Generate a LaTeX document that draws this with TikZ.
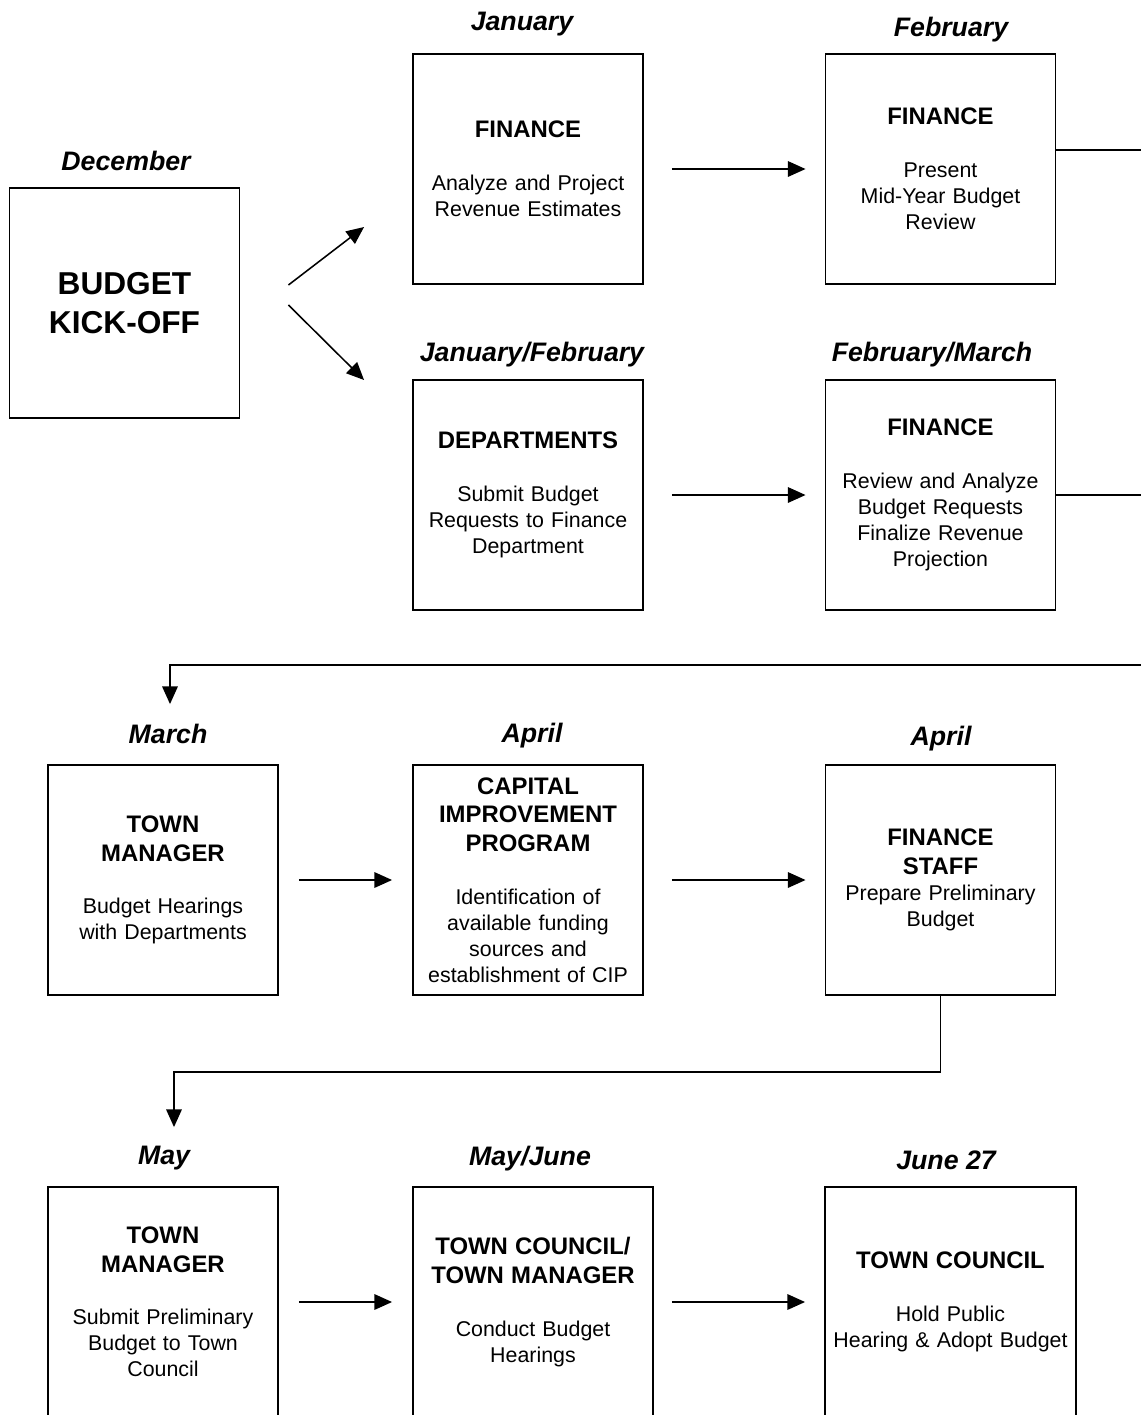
\documentclass[tikz,border=0pt]{standalone}
\usepackage{fontspec}
\setmainfont{Liberation Sans}
\usetikzlibrary{arrows.meta,positioning,calc}

\newcommand{\hd}{\bfseries\fontsize{17}{20.3}\selectfont}
\newcommand{\boxhead}[1]{{\hd #1\par}}

\begin{document}
\begin{tikzpicture}[x=0.025cm,y=-0.025cm,
    stage/.style={draw,line width=1.3pt,minimum width=5.75cm,minimum height=5.75cm,
      inner sep=0pt,text width=5.75cm,align=center,
      font=\fontsize{15.2}{18.5}\selectfont},
    month/.style={font=\bfseries\itshape\fontsize{19}{22}\selectfont,yshift=-1.5pt},
    arr/.style={line width=1.1pt,-{Triangle[length=12.5pt,width=11pt]}},
    link/.style={line width=1.1pt}]
  \useasboundingbox (0,0) rectangle (1141,1415);
  \clip (0,0) rectangle (1141,1415);

  \node[month] (decl) at (126,159) {December};
  \node[stage,font=\bfseries\fontsize{22.5}{27.7}\selectfont] (kick) at (124.5,303)
    {BUDGET\\KICK-OFF};

  \node[month] (janl) at (522,22) {January};
  \node[stage] (jan) at (528,169)
    {\boxhead{FINANCE}\vspace{19pt}Analyze and Project\\Revenue Estimates};
  \node[month] (febl) at (951,27) {February};
  \node[stage] (feb) at (940.5,169)
    {\boxhead{FINANCE}\vspace{19pt}Present\\Mid-Year Budget\\Review};

  \node[month] (deptl) at (532,352) {January/February};
  \node[stage] (dept) at (528,495)
    {\boxhead{DEPARTMENTS}\vspace{19pt}Submit Budget\\Requests to Finance\\Department};
  \node[month] (reviewl) at (932,352) {February/March};
  \node[stage] (review) at (940.5,495)
    {\boxhead{FINANCE}\vspace{19pt}Review and Analyze\\Budget Requests\\Finalize Revenue\\Projection};

  \node[month] (marchl) at (168,732) {March};
  \node[stage] (march) at (163,880)
    {\boxhead{TOWN\\MANAGER}\vspace{19pt}Budget Hearings\\with Departments};
  \node[month] (cipl) at (532,733) {April};
  \node[stage] (cip) at (528,880)
    {\boxhead{CAPITAL\\IMPROVEMENT\\PROGRAM}\vspace{19pt}Identification of\\available funding\\sources and\\establishment of CIP};
  \node[month] (staffl) at (941,736) {April};
  \node[stage] (staff) at (940.5,880)
    {\boxhead{FINANCE\\STAFF}Prepare Preliminary\\Budget};

  \node[month] (mayl) at (164,1156) {May};
  \node[stage] (may) at (163,1302)
    {\boxhead{TOWN\\MANAGER}\vspace{19pt}Submit Preliminary\\Budget to Town\\Council};
  \node[month] (councill) at (530,1156) {May/June};
  \node[stage,minimum width=6cm,text width=6cm] (council) at (533,1302)
    {\boxhead{TOWN COUNCIL/\\TOWN MANAGER}\vspace{19pt}Conduct Budget\\Hearings};
  \node[month] (adoptl) at (946,1158) {June 27};
  \node[stage,minimum width=6.275cm,text width=6.275cm] (adopt) at (950.5,1302)
    {\boxhead{TOWN COUNCIL}\vspace{19pt}Hold Public\\Hearing \& Adopt Budget};

  \draw[arr] ([shift={(48,-18)}]kick.east) -- ([shift={(-48,58)}]jan.west);
  \draw[arr] ([shift={(48,2)}]kick.east) -- ([shift={(-48,-115)}]dept.west);
  \draw[arr] ([xshift=0.7cm]jan.east) -- ([xshift=-0.475cm]feb.west);
  \draw[arr] ([xshift=0.7cm]dept.east) -- ([xshift=-0.475cm]review.west);

  \coordinate (rail) at (1170,665);
  \draw[link] ([yshift=0.475cm]feb.east) -| (rail);
  \draw[link] (review.east) -| (rail);
  \draw[arr] (rail) -| ([shift={(7,-60)}]march.north);

  \draw[arr] ([xshift=0.5cm]march.east) -- ([xshift=-0.5cm]cip.west);
  \draw[arr] ([xshift=0.7cm]cip.east) -- ([xshift=-0.475cm]staff.west);

  \coordinate (bend) at (174,1072);
  \draw[arr] (staff.south) |- (bend) -- ([shift={(11,-59)}]may.north);

  \draw[arr] ([xshift=0.5cm]may.east) -- ([xshift=-0.5cm]council.west);
  \draw[arr] ([xshift=0.45cm]council.east) -- ([xshift=-0.475cm]adopt.west);
\end{tikzpicture}
\end{document}
